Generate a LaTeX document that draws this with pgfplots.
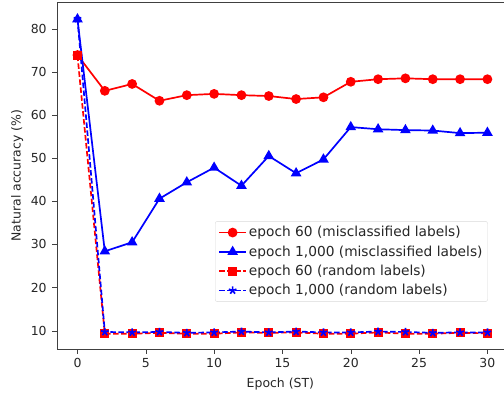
\documentclass[border=0pt]{standalone}
\usepackage{pgfplots}
\pgfplotsset{compat=1.18}
\usepackage{fontspec}
\setmainfont{DejaVu Sans}
\begin{document}
\fontsize{12.5}{15}\selectfont
\begin{tikzpicture}
\begin{axis}[
  scale only axis,
  width=447bp, height=347.5bp,
  xmin=-1.5, xmax=31.2,
  ymin=5.67, ymax=86.2,
  xtick={0,5,...,30},
  ytick={10,20,...,80},
  tick align=outside,
  tick pos=left,
  major tick length=4.5bp,
  axis line style={black!75},
  tick style={black!75},
  /pgf/number format/assume math mode=true,
  ticklabel style={font=\fontsize{12.5}{15}\selectfont, text=black!85},
  yticklabel style={xshift=-1.5bp},
  label style={font=\fontsize{12.5}{15}\selectfont, text=black!85},
  xlabel={Epoch (ST)},
  ylabel={Natural accuracy (\%)},
  xlabel style={yshift=-2bp},
  ylabel style={yshift=-1bp},
  legend style={at={(rel axis cs:0.964,0.137)}, anchor=south east,
    draw=black!15, rounded corners=2bp,
    nodes={font=\fontsize{13.8}{16}\selectfont},
    row sep=3bp, inner xsep=3bp, inner ysep=3bp},
  legend cell align=left,
  legend image code/.code={\draw[mark repeat=2,mark phase=2,line width=1.7bp,#1] plot coordinates {(0bp,0bp)(13.5bp,0bp)(27bp,0bp)};},
  every axis plot/.append style={line width=1.7bp},
]
\addplot[red, mark=*, mark size=4bp] coordinates {
(0,73.9)(2,65.6)(4,67.2)(6,63.3)(8,64.6)(10,64.9)(12,64.6)(14,64.4)(16,63.7)(18,64.1)(20,67.7)(22,68.3)(24,68.5)(26,68.3)(28,68.3)(30,68.3)};
\addlegendentry{\color{black!85}epoch 60 (misclassified labels)}
\addplot[blue, mark=triangle*, mark size=4.5bp] coordinates {
(0,82.2)(2,28.4)(4,30.5)(6,40.6)(8,44.4)(10,47.8)(12,43.6)(14,50.5)(16,46.5)(18,49.7)(20,57.2)(22,56.7)(24,56.5)(26,56.4)(28,55.8)(30,55.9)};
\addlegendentry{\color{black!85}epoch 1,000 (misclassified labels)}
\addplot[red, dashed, dash pattern=on 5.5bp off 2.5bp, mark=square*, mark size=3.6bp, mark options={solid}] coordinates {
(0,73.8)(2,9.3)(4,9.3)(6,9.5)(8,9.3)(10,9.3)(12,9.6)(14,9.5)(16,9.6)(18,9.3)(20,9.3)(22,9.6)(24,9.3)(26,9.3)(28,9.5)(30,9.4)};
\addlegendentry{\color{black!85}epoch 60 (random labels)}
\addplot[blue, dashed, dash pattern=on 5.5bp off 2.5bp, mark=star, mark size=4bp, mark options={solid, line width=1.7bp}] coordinates {
(0,82.3)(2,9.7)(4,9.6)(6,9.7)(8,9.5)(10,9.6)(12,9.8)(14,9.6)(16,9.8)(18,9.6)(20,9.6)(22,9.8)(24,9.7)(26,9.5)(28,9.6)(30,9.6)};
\addlegendentry{\color{black!85}epoch 1,000 (random labels)}
\end{axis}
\path ([xshift=-57bp,yshift=2bp]current axis.north west);
\path ([xshift=-57bp,yshift=-44.3bp]current axis.south west);
\end{tikzpicture}
\end{document}
